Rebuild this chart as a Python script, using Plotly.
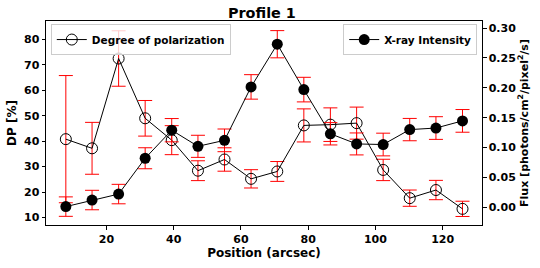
import plotly.graph_objects as go

# Data
position = [7.9, 15.7, 23.6, 31.5, 39.4, 47.2, 55.1, 63.0, 70.8, 78.7,
            86.6, 94.4, 102.3, 110.2, 118.0, 125.9]
dp = [40.8, 37.2, 72.5, 49.0, 40.4, 28.4, 32.8, 25.2, 28.1, 46.2,
      46.5, 47.1, 28.7, 17.6, 20.8, 13.4]
dp_err = [25.0, 10.2, 10.9, 7.0, 5.7, 3.9, 4.6, 3.6, 3.9, 6.5,
          6.6, 6.3, 4.2, 3.2, 3.8, 3.0]
flux = [0.001, 0.012, 0.022, 0.082, 0.129, 0.102, 0.112, 0.2015, 0.273, 0.197,
        0.123, 0.106, 0.105, 0.130, 0.1326, 0.1446]
flux_err = [0.0163, 0.0163, 0.0163, 0.0176, 0.0195, 0.0185, 0.019, 0.0205, 0.0228, 0.0206,
            0.0187, 0.0184, 0.019, 0.0187, 0.019, 0.019]
x_ticks = [20, 40, 60, 80, 100, 120]
dp_ticks = [10, 20, 30, 40, 50, 60, 70, 80]
flux_ticks = [0.00, 0.05, 0.10, 0.15, 0.20, 0.25, 0.30]

FONT = "DejaVu Sans"

fig = go.Figure()
fig.add_trace(go.Scatter(
    x=position, y=dp, mode="lines+markers", name="Degree of polarization",
    line=dict(color="black", width=1),
    marker=dict(symbol="circle-open", size=11, color="black", line=dict(width=1, color="black")),
    error_y=dict(type="data", array=dp_err, visible=True, color="red", thickness=1, width=7),
    legend="legend", yaxis="y",
))
fig.add_trace(go.Scatter(
    x=position, y=flux, mode="lines+markers", name="X-ray Intensity",
    line=dict(color="black", width=1),
    marker=dict(symbol="circle", size=11, color="black"),
    error_y=dict(type="data", array=flux_err, visible=True, color="red", thickness=1, width=7),
    legend="legend2", yaxis="y2",
))

tickfont = dict(family=FONT, size=11, color="black", weight="bold")
titlefont = dict(family=FONT, size=12, color="black", weight="bold")

fig.update_layout(
    width=540, height=268,
    margin=dict(l=41, r=57, t=21, b=37),
    paper_bgcolor="white", plot_bgcolor="white",
    title=dict(text="Profile 1", x=0.485, xanchor="center", y=0.952, yanchor="middle",
               yref="container", font=dict(family=FONT, size=14.4, color="black", weight="bold")),
    xaxis=dict(range=[2.0, 131.7], tickvals=x_ticks, showgrid=False, zeroline=False,
               showline=True, linecolor="black", linewidth=1, mirror=True,
               ticks="outside", ticklen=3.5, tickwidth=1, tickcolor="black",
               tickfont=tickfont,
               title=dict(text="Position (arcsec)", font=titlefont, standoff=2)),
    yaxis=dict(range=[7.05, 87.25], tickvals=dp_ticks, showgrid=False, zeroline=False,
               showline=True, linecolor="black", linewidth=1, mirror=True,
               ticks="outside", ticklen=3.5, tickwidth=1, tickcolor="black",
               tickfont=tickfont,
               title=dict(text="DP [%]", font=titlefont, standoff=4)),
    yaxis2=dict(range=[-0.0298, 0.3119], tickvals=flux_ticks, tickformat=".2f",
                overlaying="y", side="right", showgrid=False, zeroline=False,
                showline=True, linecolor="black", linewidth=1,
                ticks="outside", ticklen=3.5, tickwidth=1, tickcolor="black",
                tickfont=tickfont,
                title=dict(text="Flux [photons/cm<sup>2</sup>/pixel<sup>2</sup>/s]",
                           font=dict(family=FONT, size=11, color="black", weight="bold"), standoff=4)),
    legend=dict(x=0.011, y=0.985, xanchor="left", yanchor="top",
                bgcolor="rgba(255,255,255,0.8)", bordercolor="#cccccc", borderwidth=1,
                font=dict(family=FONT, size=10.5, color="black", weight="bold"),
                itemwidth=30, tracegroupgap=0),
    legend2=dict(x=0.989, y=0.985, xanchor="right", yanchor="top",
                 bgcolor="rgba(255,255,255,0.8)", bordercolor="#cccccc", borderwidth=1,
                 font=dict(family=FONT, size=10.5, color="black", weight="bold"),
                 itemwidth=30, tracegroupgap=0),
    showlegend=True,
)

fig.write_html("out.html", config={"displayModeBar": False},
               post_script="document.body.style.margin='0';")
